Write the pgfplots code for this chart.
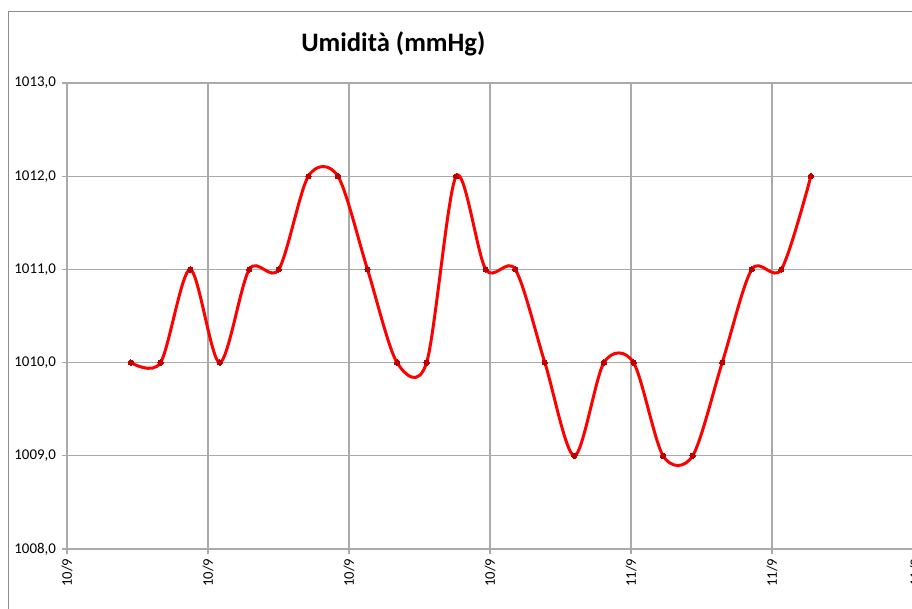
\documentclass[border=0pt]{standalone}
\usepackage{pgfplots}
\pgfplotsset{compat=1.18}
\usepackage{fontspec}
\setmainfont{Carlito}
\definecolor{gridc}{RGB}{170,170,170}
\definecolor{framec}{RGB}{140,140,140}
\definecolor{mk}{RGB}{190,0,0}
\begin{document}
\begin{tikzpicture}
\useasboundingbox (0,0) rectangle (684pt,456pt);
\draw[framec, line width=0.75pt] (6pt,-20pt) -- (6pt,447pt) -- (720pt,447pt);
\node[anchor=base, font=\bfseries\fontsize{20}{24}\selectfont] at (295pt,417pt) {Umidità (mmHg)};
\begin{axis}[
  at={(50.25pt,44.25pt)}, anchor=south west,
  scale only axis, width=647.25pt, height=349.5pt,
  xmin=-2.165, xmax=27.03, ymin=1008, ymax=1013,
  axis x line*=bottom, axis y line*=left,
  axis line style={gridc, line width=0.8pt, -},
  tick align=outside, major tick length=3.75pt,
  tick style={gridc, line width=0.8pt},
  xtick={-2.165,2.605,7.375,12.145,16.915,21.685,26.53},
  xticklabels={10/9,10/9,10/9,10/9,11/9,11/9,11/9},
  xticklabel style={rotate=90, anchor=east, font=\fontsize{11}{13}\selectfont},
  ytick={1008,1009,1010,1011,1012,1013},
  yticklabel style={font=\fontsize{11.2}{13}\selectfont, xshift=-1pt},
  /pgf/number format/assume math mode=true,
  yticklabel={\pgfmathprintnumber[fixed, fixed zerofill, precision=1, use comma, 1000 sep={}]{\tick}},
  grid=major, major grid style={gridc, line width=0.8pt},
  clip=false,
]
\addplot[red, line width=2.25pt, smooth, tension=0.5, mark=*, mark size=2pt,
  mark options={fill=mk, draw=mk, line width=0pt}]
coordinates {
(0,1010) (1,1010) (2,1011) (3,1010) (4,1011) (5,1011) (6,1012) (7,1012)
(8,1011) (9,1010) (10,1010) (11,1012) (12,1011) (13,1011) (14,1010) (15,1009)
(16,1010) (17,1010) (18,1009) (19,1009) (20,1010) (21,1011) (22,1011) (23,1012)
};
\end{axis}
\end{tikzpicture}
\end{document}
